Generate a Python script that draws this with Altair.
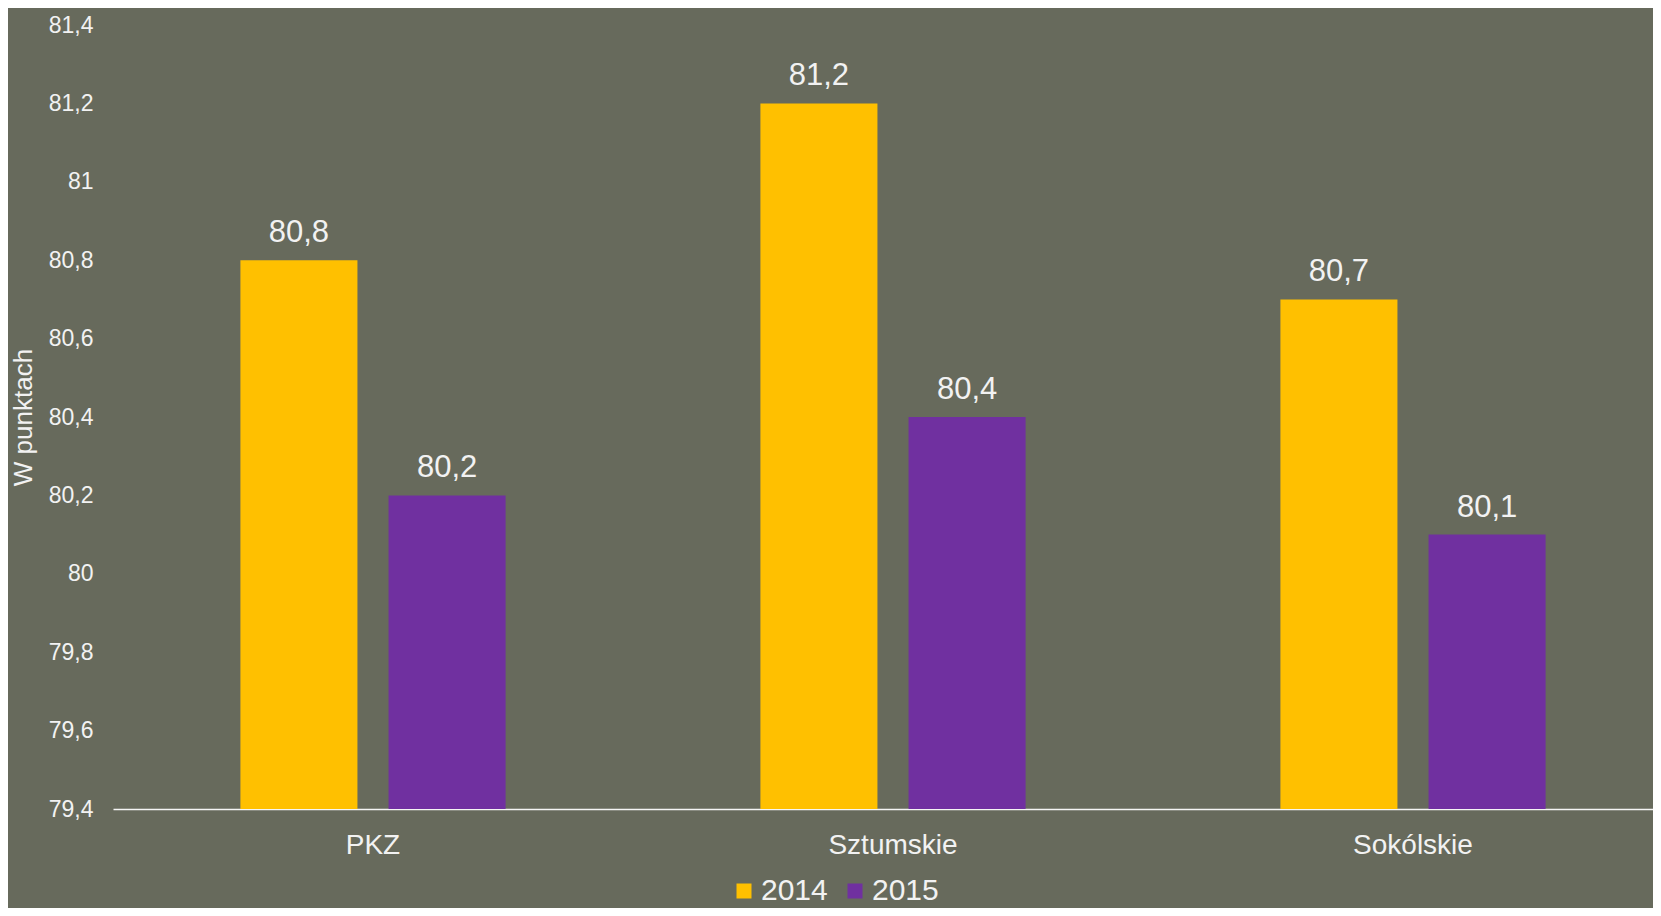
import altair as alt
import pandas as pd

categories = ["PKZ", "Sztumskie", "Sokólskie"]
years = ["2014", "2015"]
values_2014 = [80.8, 81.2, 80.7]
values_2015 = [80.2, 80.4, 80.1]
y_ticks = [79.4, 79.6, 79.8, 80.0, 80.2, 80.4, 80.6, 80.8, 81.0, 81.2, 81.4]
y_min = 79.4
y_max = 81.4

rows = []
for c, a, b in zip(categories, values_2014, values_2015):
    rows.append({"cat": c, "year": "2014", "value": a})
    rows.append({"cat": c, "year": "2015", "value": b})
df = pd.DataFrame(rows)

BG = "#676A5C"
TXT = "#F2F2F2"
FONT = "Liberation Sans"

x_scale = alt.Scale(paddingInner=0, paddingOuter=0, range=[0, 1560])
x_enc = alt.X("cat:N", sort=categories, scale=x_scale,
              axis=alt.Axis(title=None, labelAngle=0, labelFontSize=28, labelColor=TXT,
                            labelFont=FONT, labelPadding=22, ticks=False,
                            domainColor="#F5F5F5", domainWidth=1.5))
xoff = alt.XOffset("year:N", sort=years,
                   scale=alt.Scale(paddingInner=0.21, paddingOuter=0.86))
y_scale = alt.Scale(domain=[y_min, y_max], nice=False, zero=False)

base = alt.Chart(df)

bars = base.mark_bar().encode(
    x=x_enc,
    xOffset=xoff,
    y=alt.Y("value:Q", scale=y_scale,
            axis=alt.Axis(title="W punktach", values=y_ticks, grid=False, ticks=False,
                          domain=False, labelFontSize=23, labelColor=TXT, labelFont=FONT,
                          labelPadding=20,
                          labelExpr="replace(format(datum.value, '.2~f'), '.', ',')",
                          titleFontSize=26, titleColor=TXT, titleFont=FONT,
                          titleFontWeight="normal", titleX=-90, titleY=392,
                          titleAngle=270, titleAlign="center", titleBaseline="middle")),
    y2=alt.datum(y_min),
    color=alt.Color("year:N", sort=years,
                    scale=alt.Scale(domain=years, range=["#FFC000", "#7030A0"]),
                    legend=alt.Legend(title=None, orient="none", legendX=616, legendY=851,
                                      direction="horizontal", symbolType="square",
                                      symbolSize=225, symbolStrokeWidth=0,
                                      labelFontSize=30, labelColor=TXT, labelFont=FONT,
                                      labelOffset=2, columnPadding=12)),
)

labels = base.transform_calculate(
    lab="replace(format(datum.value, '.1f'), '.', ',')"
).mark_text(fontSize=31, color=TXT, font=FONT, baseline="alphabetic", dy=-18).encode(
    x=alt.X("cat:N", sort=categories, scale=x_scale),
    xOffset=alt.XOffset("year:N", sort=years),
    y=alt.Y("value:Q", scale=y_scale),
    text="lab:N",
)

chart = alt.layer(bars, labels).properties(
    width=1540, height=784,
    background=BG,
    padding={"left": 105, "top": 17, "right": 0, "bottom": 99},
    autosize=alt.AutoSizeParams(type="none"),
).configure_view(stroke=None)

chart.save("out.html", embed_options={"renderer": "svg", "actions": False})
